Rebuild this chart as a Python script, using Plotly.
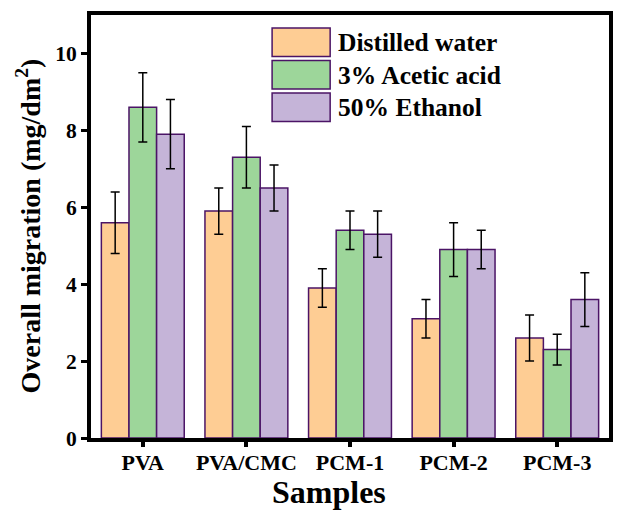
import plotly.graph_objects as go

samples = ["PVA", "PVA/CMC", "PCM-1", "PCM-2", "PCM-3"]
series_names = ["Distilled water", "3% Acetic acid", "50% Ethanol"]
water = [5.6, 5.9, 3.9, 3.1, 2.6]
water_err = [0.8, 0.6, 0.5, 0.5, 0.6]
acetic = [8.6, 7.3, 5.4, 4.9, 2.3]
acetic_err = [0.9, 0.8, 0.5, 0.7, 0.4]
ethanol = [7.9, 6.5, 5.3, 4.9, 3.6]
ethanol_err = [0.9, 0.6, 0.6, 0.5, 0.7]
colors = ["#FECD94", "#9DD69A", "#C5B4D8"]
outline = "#4B1466"
y_ticks = [0, 2, 4, 6, 8, 10]

FONT = "Liberation Serif, Times New Roman, Times, serif"
W, H = 617, 512
L, R, T, B = 91, 4, 15, 74
pw, ph = W - L - R, H - T - B

def px_x(p):
    return (p - L) / pw

def px_y(p):
    return (H - B - p) / ph

fig = go.Figure()
for name, vals, errs, col in zip(series_names, [water, acetic, ethanol],
                                 [water_err, acetic_err, ethanol_err], colors):
    fig.add_trace(go.Bar(
        x=samples, y=vals, name=name, showlegend=False,
        marker=dict(color=col, line=dict(color=outline, width=1.5)),
        error_y=dict(type="data", array=errs, visible=True,
                     color="black", thickness=1.5, width=4.5),
    ))

# manual legend (large swatches like the reference)
shapes = []
annotations = []
row_tops = [28, 60.5, 93]
for name, col, top in zip(series_names, colors, row_tops):
    shapes.append(dict(type="rect", xref="paper", yref="paper",
                       x0=px_x(273.5), x1=px_x(332), y0=px_y(top + 28.5), y1=px_y(top),
                       fillcolor=col, line=dict(color=outline, width=1.5)))
    annotations.append(dict(xref="paper", yref="paper", x=px_x(338), y=px_y(top + 14.5),
                            xanchor="left", yanchor="middle", showarrow=False,
                            text="<b>" + name + "</b>",
                            font=dict(family=FONT, size=25.5, color="black")))

annotations.append(dict(xref="paper", yref="paper", x=px_x(331), y=px_y(492),
                        xanchor="center", yanchor="middle", showarrow=False,
                        text="<b>Samples</b>", font=dict(family=FONT, size=32, color="black")))
annotations.append(dict(xref="paper", yref="paper", x=px_x(28), y=px_y(226),
                        xanchor="center", yanchor="middle", showarrow=False, textangle=-90,
                        text="<b>Overall migration (mg/dm<sup>2</sup>)</b>",
                        font=dict(family=FONT, size=28, color="black")))

fig.update_layout(
    width=W, height=H,
    margin=dict(l=L, r=R, t=T, b=B),
    paper_bgcolor="white", plot_bgcolor="white",
    barmode="group", bargap=0.2, bargroupgap=0,
    shapes=shapes, annotations=annotations,
    font=dict(family=FONT, color="black"),
    xaxis=dict(range=[-0.5, 4.5], showline=True, linewidth=4, linecolor="black", mirror=True,
               ticks="outside", ticklen=5, tickwidth=4, tickcolor="black",
               tickvals=samples, ticktext=["<b>" + s + "</b>" for s in samples],
               tickfont=dict(family=FONT, size=22, color="black"),
               ticklabelstandoff=-3,
               showgrid=False, zeroline=False),
    yaxis=dict(range=[0, 11], tickvals=y_ticks, ticktext=["<b>%d</b>" % v for v in y_ticks],
               showline=True, linewidth=4, linecolor="black",
               mirror=True, ticks="outside", ticklen=6, tickwidth=3, tickcolor="black",
               tickfont=dict(family=FONT, size=21.5, color="black"),
               showgrid=False, zeroline=False),
)

fig.write_html("out.html")
